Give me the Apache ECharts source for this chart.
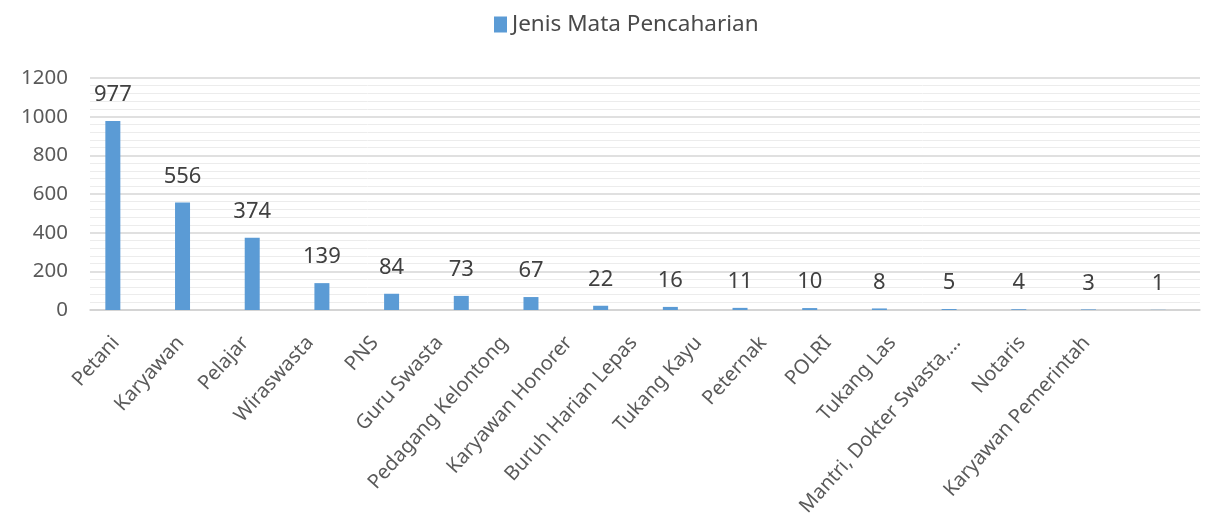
<!DOCTYPE html>
<html>
<head>
<meta charset="utf-8">
<script src="https://cdn.jsdelivr.net/npm/echarts@6/dist/echarts.min.js"></script>
<style>
html,body{margin:0;padding:0;background:#fff;}
#chart{width:1210px;height:519px;}
</style>
</head>
<body>
<div id="chart"></div>
<script>
var seriesName = 'Jenis Mata Pencaharian';
var categories = ['Petani','Karyawan','Pelajar','Wiraswasta','PNS','Guru Swasta','Pedagang Kelontong','Karyawan Honorer','Buruh Harian Lepas','Tukang Kayu','Peternak','POLRI','Tukang Las','Mantri, Dokter Swasta,...','Notaris','Karyawan Pemerintah'];
var values = [977,556,374,139,84,73,67,22,16,11,10,8,5,4,3,1];
var yTicks = [0,200,400,600,800,1000,1200];

var font = '"Noto Sans", "Open Sans", sans-serif';
var yMin = yTicks[0], yMax = yTicks[yTicks.length-1], yStep = yTicks[1]-yTicks[0];
var chart = echarts.init(document.getElementById('chart'));
chart.setOption({
  animation: false,
  textStyle: {fontFamily: font},
  legend: {
    top: 8, left: 489,
    itemWidth: 13, itemHeight: 16, itemGap: 5,
    icon: 'rect',
    textStyle: {fontSize: 22.5, color: '#4a4a4a', fontFamily: font}
  },
  grid: [
    {left: 78, right: 17, top: 78, bottom: 209},   // bars
    {left: 90, right: 10, top: 78, bottom: 209},   // plot frame / gridlines
    {left: 83.5, right: 91, top: 78, bottom: 209}  // category labels
  ],
  xAxis: [
    {type: 'category', gridIndex: 0, data: categories,
     axisLine: {show: false}, axisTick: {show: false}, axisLabel: {show: false}},
    {type: 'category', gridIndex: 1, data: categories,
     axisLine: {lineStyle: {color: '#d0d0d0', width: 1.5}},
     axisTick: {show: false}, axisLabel: {show: false}},
    {type: 'category', gridIndex: 2, data: categories,
     axisLine: {show: false}, axisTick: {show: false},
     axisLabel: {rotate: 48, interval: 0, fontSize: 20, color: '#5a5a5a', margin: 34, fontFamily: font}}
  ],
  yAxis: [
    {type: 'value', gridIndex: 0, min: yMin, max: yMax, interval: yStep,
     axisLine: {show: false}, axisTick: {show: false}, axisLabel: {show: false}, splitLine: {show: false}},
    {type: 'value', gridIndex: 1, min: yMin, max: yMax, interval: yStep,
     axisLine: {show: false}, axisTick: {show: false},
     axisLabel: {fontSize: 20.5, color: '#5a5a5a', margin: 22, fontFamily: font,
                 formatter: function (v) { return String(v); }},
     splitLine: {lineStyle: {color: '#d6d6d6', width: 1.5}},
     minorTick: {show: false, splitNumber: 5},
     minorSplitLine: {show: true, lineStyle: {color: '#ececec', width: 1}}},
    {type: 'value', gridIndex: 2, min: yMin, max: yMax, show: false, splitLine: {show: false}}
  ],
  series: [{
    name: seriesName,
    type: 'bar',
    xAxisIndex: 0, yAxisIndex: 0,
    data: values,
    barWidth: 15,
    z: 3,
    itemStyle: {color: '#5b9bd5'},
    label: {show: true, position: 'top', distance: 15, fontSize: 22, color: '#404040', fontFamily: font}
  }]
});
</script>
</body>
</html>
